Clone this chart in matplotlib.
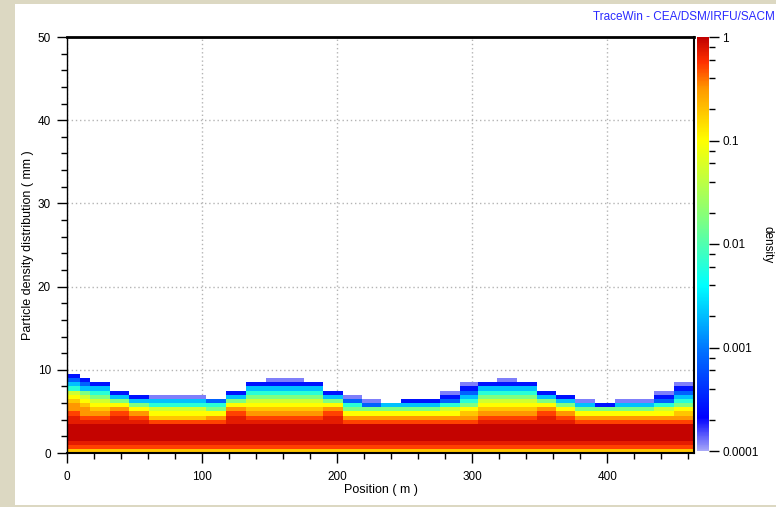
import numpy as np
import matplotlib
matplotlib.use("Agg")
import matplotlib.pyplot as plt
from matplotlib.colors import LinearSegmentedColormap, LogNorm
from matplotlib.patches import Rectangle
from matplotlib.ticker import MultipleLocator, LogLocator, NullFormatter

plt.rcParams["font.family"] = ["Liberation Sans", "DejaVu Sans"]

# Longitudinal bin edges along the linac (m)
x_edges = [0, 9.9, 17.3, 32.1, 45.6, 60.7, 74.0, 88.9, 103.1, 117.4, 132.2,
           147.0, 161.0, 175.1, 189.3, 204.1, 218.5, 232.5, 247.3, 261.6,
           276.4, 291.2, 304.5, 318.6, 333.4, 348.2, 362.0, 376.0, 390.8,
           405.8, 419.9, 434.7, 449.5, 464.2]

# Radial bin height (mm)
row_height = 0.5

# Density level for each code letter
level_density = {
    "L": 1.2e-4, "B": 2.6e-4, "b": 7.5e-4, "c": 2.1e-3, "a": 6.3e-3,
    "g": 1.7e-2, "y": 5.2e-2, "Y": 0.10, "o": 0.19, "O": 0.32,
    "r": 0.52, "R": 0.72, "D": 0.96,
}

# One string per longitudinal bin, radial bins listed from r = 0 outward
columns = [
    "orRDDDDRRrOOoYyacbB",
    "orRDDDDRrOOoYygcbB",
    "orRDDDDRrOoYygacB",
    "orRDDDDRRrOYgcB",
    "orRDDDDRrOYgcB",
    "orRDDDDroYyacL",
    "orRDDDDroYyacL",
    "orRDDDDroYyacL",
    "orRDDDDrOYgab",
    "orRDDDDRRrOYgcB",
    "orRDDDDRrOoYygacB",
    "orRDDDDRrOoYygacBL",
    "orRDDDDRrOoYygacBL",
    "orRDDDDRrOoYygacB",
    "orRDDDDRRrOYgcB",
    "orRDDDDrOYgabL",
    "orRDDDDrOYgbL",
    "orRDDDDrOYgc",
    "orRDDDDrOYgcB",
    "orRDDDDrOYgcB",
    "orRDDDDrOYyabBL",
    "orRDDDDrOoYgacbBL",
    "orRDDDDRrOoYygacB",
    "orRDDDDRrOoYygacBL",
    "orRDDDDRrOoYygacB",
    "orRDDDDRRrOYgcB",
    "orRDDDDRrOYgcB",
    "orRDDDDrOYgcL",
    "orRDDDDrOYgB",
    "orRDDDDrOYgcL",
    "orRDDDDrOYgcL",
    "orRDDDDrOYyabBL",
    "orRDDDDrOoYgacbBL",
]

x_ticks = [0, 100, 200, 300, 400]
y_ticks = [0, 10, 20, 30, 40, 50]
cb_ticks = [1e-4, 1e-3, 1e-2, 1e-1, 1]
cb_labels = ["0.0001", "0.001", "0.01", "0.1", "1"]

# Build the density grid
n_rows = max(len(c) for c in columns)
grid = np.full((n_rows, len(columns)), np.nan)
for j, col in enumerate(columns):
    for i, ch in enumerate(col):
        grid[i, j] = level_density[ch]
grid = np.ma.masked_invalid(grid)
y_edges = np.arange(n_rows + 1) * row_height

cmap = LinearSegmentedColormap.from_list("tw", [
    (0.00, "#a8a8f8"),
    (0.08, "#0000ff"),
    (0.24, "#0070ff"),
    (0.40, "#00ffff"),
    (0.56, "#80ff80"),
    (0.75, "#ffff00"),
    (0.875, "#ff9a00"),
    (0.94, "#ff3000"),
    (1.00, "#c00000"),
], N=512)
norm = LogNorm(vmin=1e-4, vmax=1)

W, H = 776, 507
PX = 0.72  # points per pixel at 100 dpi
fig = plt.figure(figsize=(W / 100, H / 100), dpi=100)
fig.patch.set_facecolor("#dcd8c2")
fig.patches.append(Rectangle((15 / W, 2 / H), (W - 15) / W, (503 - 2) / H,
                             transform=fig.transFigure, facecolor="white",
                             edgecolor="none", zorder=-10))

ax = fig.add_axes([67 / W, (H - 453) / H, (694 - 67) / W, (453 - 37) / H])
ax.set_facecolor("white")
mesh = ax.pcolormesh(x_edges, y_edges, grid, cmap=cmap, norm=norm,
                     shading="flat", antialiased=False, linewidth=0,
                     zorder=2)
ax.set_xlim(x_edges[0], x_edges[-1])
ax.set_ylim(0, 50)
ax.set_xticks(x_ticks)
ax.set_yticks(y_ticks)
ax.xaxis.set_minor_locator(MultipleLocator(20))
ax.yaxis.set_minor_locator(MultipleLocator(2))
ax.tick_params(axis="both", which="major", direction="out", length=10 * PX,
               width=1.0, labelsize=8.5, color="black")
ax.tick_params(axis="x", which="major", pad=8 * PX)
ax.tick_params(axis="y", which="major", pad=6 * PX)
ax.tick_params(axis="both", which="minor", direction="out", length=6 * PX,
               width=1.0, color="black")
ax.grid(True, which="major", color="#b4b4b4", linestyle=(0, (1, 2)),
        linewidth=1.0, zorder=1)
ax.set_axisbelow(True)
for side, lw in (("top", 2.0), ("right", 1.5), ("bottom", 1.5), ("left", 1.0)):
    ax.spines[side].set_linewidth(lw)
    ax.spines[side].set_color("black")
    ax.spines[side].set_zorder(5)
ax.set_xlabel("Position ( m )", fontsize=9, labelpad=1)
ax.set_ylabel("Particle density distribution ( mm )", fontsize=9, labelpad=3)

cax = fig.add_axes([697 / W, (H - 451) / H, 12 / W, (451 - 37) / H])
cb = fig.colorbar(mesh, cax=cax)
cb.outline.set_visible(False)
cb.set_ticks(cb_ticks)
cb.set_ticklabels(cb_labels)
cax.yaxis.set_minor_locator(LogLocator(base=10, subs=(2, 4, 6, 8)))
cax.yaxis.set_minor_formatter(NullFormatter())
cax.tick_params(which="major", direction="out", length=10 * PX, width=1.0,
                labelsize=8.5, pad=3 * PX)
cax.tick_params(which="minor", direction="out", length=6 * PX, width=1.0)

fig.text(768 / W, 1 - 245 / H, "density", rotation=-90, ha="center",
         va="center", fontsize=8.5)
fig.text(775 / W, 1 - 17 / H, "TraceWin - CEA/DSM/IRFU/SACM", ha="right",
         va="center", fontsize=8.5, color="#2a2aff")

fig.savefig("out.png", dpi=100, facecolor=fig.get_facecolor())
